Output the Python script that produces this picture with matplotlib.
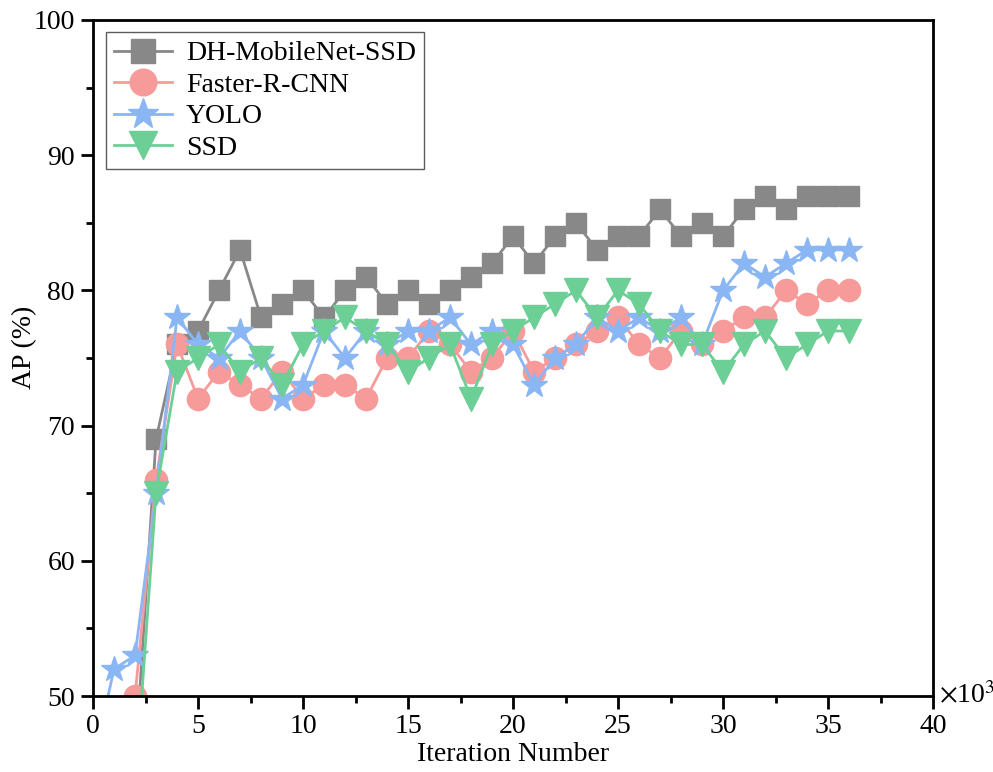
import matplotlib.pyplot as plt
from matplotlib.ticker import MultipleLocator
import numpy as np

plt.rcParams['font.family'] = ['Liberation Serif', 'DejaVu Serif']
plt.rcParams['mathtext.fontset'] = 'stix'

nan = np.nan
steps = list(range(0, 37))  # iteration number (x10^3)

dh_mobilenet_ssd = [nan, nan, 45, 69, 76, 77, 80, 83, 78, 79, 80, 78, 80, 81, 79, 80, 79, 80,
                    81, 82, 84, 82, 84, 85, 83, 84, 84, 86, 84, 85, 84, 86, 87, 86, 87, 87, 87]
faster_rcnn = [nan, nan, 50, 66, 76, 72, 74, 73, 72, 74, 72, 73, 73, 72, 75, 75, 77, 76,
               74, 75, 77, 74, 75, 76, 77, 78, 76, 75, 77, 76, 77, 78, 78, 80, 79, 80, 80]
yolo = [45, 52, 53, 65, 78, 76, 75, 77, 75, 72, 73, 77, 75, 77, 76, 77, 77, 78,
        76, 77, 76, 73, 75, 76, 78, 77, 78, 77, 78, 76, 80, 82, 81, 82, 83, 83, 83]
ssd = [nan, nan, 43, 65, 74, 75, 76, 74, 75, 73, 76, 77, 78, 77, 76, 74, 75, 76,
       72, 76, 77, 78, 79, 80, 78, 80, 79, 77, 76, 76, 74, 76, 77, 75, 76, 77, 77]

names = ['DH-MobileNet-SSD', 'Faster-R-CNN', 'YOLO', 'SSD']
series = [dh_mobilenet_ssd, faster_rcnn, yolo, ssd]
colors = ['#888888', '#f79a9a', '#8ab6f4', '#6ccf96']
markers = ['s', 'o', '*', 'v']
msizes = [14, 16, 19, 17]

fig = plt.figure(figsize=(9.93, 7.72), dpi=100)
ax = fig.add_axes([0.0937, 0.0984, 0.8459, 0.8757])

for vals, name, c, m, ms in zip(series, names, colors, markers, msizes):
    ax.plot(steps, vals, color=c, marker=m, markersize=ms, markeredgecolor=c,
            linewidth=2, label=name)

ax.set_xlim(0, 40)
ax.set_ylim(50, 100)
ax.xaxis.set_major_locator(MultipleLocator(5))
ax.xaxis.set_minor_locator(MultipleLocator(2.5))
ax.yaxis.set_major_locator(MultipleLocator(10))
ax.yaxis.set_minor_locator(MultipleLocator(5))
ax.tick_params(which='major', direction='out', length=9, width=2, labelsize=20, pad=4)
ax.tick_params(which='minor', direction='out', length=5, width=2)
for sp in ax.spines.values():
    sp.set_linewidth(2)

ax.set_xlabel('Iteration Number', fontsize=20, labelpad=2)
ax.set_ylabel('AP (%)', fontsize=20)
ax.yaxis.set_label_coords(-0.0667, 0.515)
ax.annotate(r'$\times$10$^3$', xy=(1, 0), xycoords='axes fraction', xytext=(4, 0),
            textcoords='offset points', ha='left', va='center', fontsize=20)

leg = ax.legend(loc='upper left', fontsize=20, frameon=True, fancybox=False,
                edgecolor='#333333', handlelength=2.1, borderpad=0.3, markerscale=1.2,
                labelspacing=0.22, handletextpad=0.5, borderaxespad=0.45)
leg.get_frame().set_linewidth(1)

fig.savefig('out.png', dpi=100)
